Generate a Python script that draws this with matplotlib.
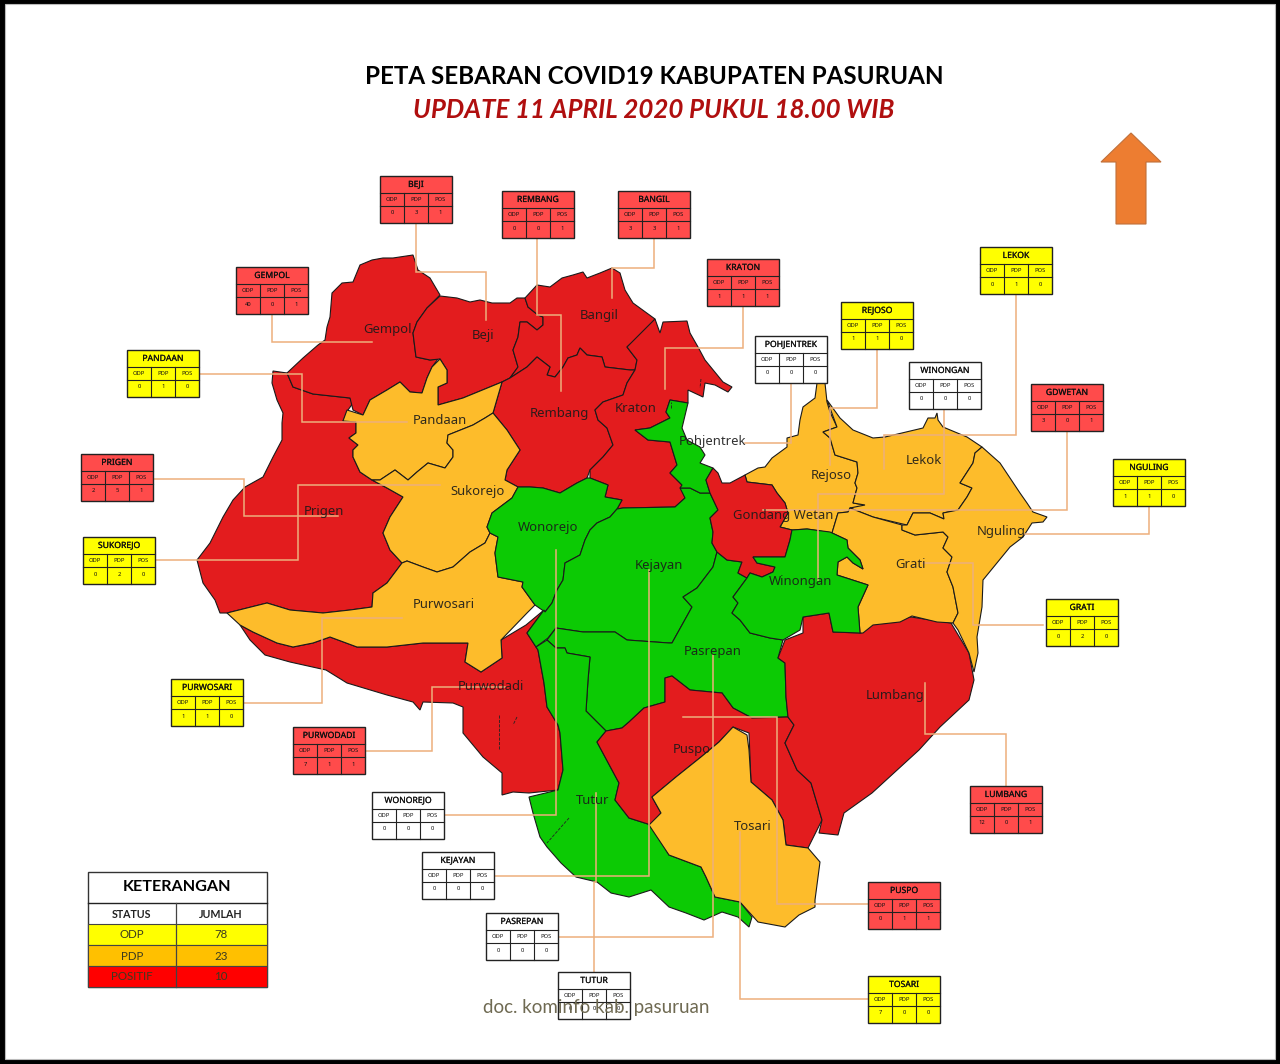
import matplotlib
matplotlib.use("Agg")
import matplotlib.pyplot as plt
import matplotlib.patheffects as pe
from matplotlib.patches import Polygon, Rectangle

RED = "#E31C1E"
ORANGE = "#FDBC2B"
GREEN = "#0CCA04"
LEADER = "#EDAF7C"

# district outlines in pixels
prigen = [(273,371),(287,373),(293,387),(313,394),(350,398),(353,403),(348,410),(343,421),(356,422),(356,433),(349,438),(358,445),(353,450),(353,457),(360,472),(372,480),(387,488),(403,497),(390,517),(383,533),(390,550),(402,563),(387,583),(373,593),(372,607),(350,610),(323,613),(290,610),(267,603),(227,613),(220,613),(215,600),(203,583),(197,560),(210,543),(223,517),(233,500),(245,487),(263,477),(273,457),(282,440),(282,423),(283,413),(277,400),(272,383)]
gempol = [(287,373),(303,358),(318,345),(325,340),(327,327),(330,317),(332,293),(342,283),(353,282),(360,265),(372,260),(383,258),(393,258),(413,255),(418,270),(430,278),(440,295),(427,308),(417,322),(413,333),(416,357),(430,360),(438,359),(432,367),(427,378),(422,393),(410,392),(400,382),(387,390),(370,400),(363,415),(353,410),(350,398),(313,394),(293,387)]
beji = [(440,296),(457,298),(470,302),(480,300),(492,303),(510,303),(517,298),(525,298),(528,307),(538,315),(543,317),(543,325),(537,330),(527,322),(520,322),(518,337),(513,350),(518,367),(510,378),(502,382),(463,398),(438,405),(438,387),(447,383),(447,370),(440,359),(430,360),(416,357),(413,333),(417,322),(427,308)]
bangil = [(525,298),(537,285),(550,287),(562,278),(573,275),(583,272),(587,278),(600,273),(612,268),(620,273),(625,290),(633,303),(655,319),(647,330),(627,347),(637,360),(635,370),(630,370),(605,367),(602,357),(587,355),(580,348),(577,355),(568,358),(563,367),(555,377),(547,375),(550,367),(537,357),(527,367),(510,378),(518,367),(513,350),(518,337),(520,322),(527,322),(537,330),(543,325),(543,317),(538,315),(528,307)]
kraton = [(655,319),(660,333),(663,322),(687,321),(690,333),(698,347),(705,360),(723,382),(732,387),(728,392),(715,385),(705,383),(703,397),(688,390),(688,403),(670,400),(666,412),(670,418),(650,428),(635,430),(648,440),(670,442),(677,465),(670,473),(682,485),(685,498),(675,507),(623,508),(617,509),(622,500),(605,497),(608,485),(590,478),(590,470),(603,457),(613,445),(607,428),(598,420),(595,410),(603,402),(623,395),(627,383),(635,370),(637,360),(627,347)]
rembang = [(510,378),(527,367),(537,357),(550,367),(547,375),(555,377),(563,367),(568,358),(577,355),(580,348),(587,355),(602,357),(605,367),(630,370),(635,370),(627,383),(623,395),(603,402),(595,410),(598,420),(607,428),(613,445),(603,457),(590,470),(587,478),(577,483),(560,493),(543,488),(530,487),(518,487),(505,480),(507,470),(520,450),(507,430),(493,413),(502,382)]
pandaan = [(440,359),(447,370),(447,383),(438,387),(438,405),(463,398),(502,382),(493,413),(485,418),(473,425),(448,435),(447,443),(453,450),(453,457),(445,468),(428,463),(417,472),(408,480),(395,470),(380,480),(372,480),(360,472),(353,457),(353,450),(358,445),(349,438),(356,433),(356,422),(343,421),(347,410),(363,415),(370,400),(387,390),(400,382),(410,392),(422,393),(427,378),(432,367)]
sukorejo = [(372,480),(380,480),(395,470),(408,480),(417,472),(428,463),(445,468),(453,457),(453,450),(447,443),(448,435),(473,425),(485,418),(493,413),(507,430),(520,450),(507,470),(505,480),(518,487),(512,498),(492,513),(487,527),(490,533),(485,543),(470,552),(453,567),(437,572),(423,567),(407,561),(402,563),(390,550),(383,533),(390,517),(403,497),(387,488)]
purwodadi = [(240,625),(253,632),(277,643),(293,647),(313,643),(330,637),(357,647),(387,647),(423,643),(468,643),(465,662),(481,672),(502,658),(501,640),(526,625),(544,610),(527,633),(538,650),(544,683),(547,707),(558,725),(560,733),(563,770),(558,790),(529,793),(513,792),(502,795),(502,773),(483,757),(463,733),(463,707),(453,703),(423,702),(420,710),(413,702),(387,695),(347,683),(326,670),(290,662),(265,655),(250,640)]
purwosari = [(227,613),(267,603),(290,610),(323,613),(350,610),(372,607),(373,593),(387,583),(402,563),(407,561),(423,567),(437,572),(453,567),(470,552),(485,543),(490,533),(498,537),(495,553),(498,577),(523,582),(522,587),(535,605),(527,613),(501,640),(502,658),(481,672),(465,662),(468,643),(423,643),(387,647),(357,647),(330,637),(313,643),(293,647),(277,643),(253,632),(240,625)]
wonorejo = [(518,487),(530,487),(543,488),(560,493),(577,483),(587,478),(590,478),(608,485),(605,497),(622,500),(617,509),(610,517),(597,523),(590,530),(585,540),(580,555),(565,563),(563,580),(557,590),(552,603),(545,612),(535,605),(522,587),(523,582),(498,577),(495,553),(498,537),(490,533),(487,527),(492,513),(512,498)]
kejayan = [(617,509),(623,508),(675,507),(685,498),(680,488),(690,488),(700,493),(710,493),(718,510),(710,518),(713,532),(712,543),(717,552),(713,567),(697,588),(683,597),(692,607),(672,643),(669,643),(627,640),(615,632),(583,632),(556,628),(548,638),(536,647),(527,633),(544,610),(545,612),(552,603),(557,590),(563,580),(565,563),(580,555),(585,540),(590,530),(597,523),(610,517)]
pohjentrek = [(670,400),(688,403),(682,428),(687,440),(700,447),(705,455),(700,463),(713,468),(706,480),(710,493),(700,493),(690,488),(680,488),(682,485),(670,473),(677,465),(670,442),(648,440),(635,430),(650,428),(670,418),(666,412)]
pasrepan = [(547,640),(556,628),(583,632),(615,632),(627,640),(669,643),(672,643),(692,607),(683,597),(697,588),(713,567),(717,552),(727,560),(742,562),(738,573),(747,578),(733,597),(738,603),(732,613),(740,620),(750,633),(770,638),(783,640),(778,658),(785,663),(786,697),(788,717),(752,718),(733,708),(722,693),(690,690),(672,676),(665,678),(665,702),(644,708),(629,722),(622,728),(606,731),(586,711),(588,680),(590,657),(567,653),(565,648),(556,648)]
tutur = [(536,647),(547,640),(556,648),(565,648),(567,653),(590,657),(588,680),(586,711),(606,731),(597,742),(619,783),(615,800),(629,818),(651,825),(669,855),(701,867),(706,877),(715,897),(740,902),(752,917),(749,927),(738,917),(722,912),(704,920),(686,913),(669,907),(651,890),(629,897),(611,893),(597,882),(576,877),(561,863),(547,847),(540,837),(533,813),(529,797),(558,790),(563,770),(560,733),(558,725),(547,707),(544,683),(538,650)]
puspo = [(606,731),(622,728),(629,722),(644,708),(665,702),(665,678),(672,676),(690,690),(722,693),(733,708),(752,718),(788,717),(794,725),(785,743),(797,770),(811,783),(822,820),(808,848),(786,845),(783,820),(772,800),(751,782),(749,733),(733,727),(719,742),(701,757),(676,777),(652,797),(661,813),(651,825),(629,818),(615,800),(619,783),(597,742)]
tosari = [(733,727),(747,735),(749,750),(751,782),(772,800),(783,820),(786,845),(808,848),(820,862),(815,900),(815,907),(799,915),(785,927),(758,922),(740,902),(715,897),(706,877),(701,867),(669,855),(649,825),(661,813),(652,797),(676,777),(701,757),(719,742)]
gondang_wetan = [(713,468),(718,473),(722,483),(730,483),(745,475),(747,482),(772,485),(777,493),(785,503),(788,513),(780,527),(792,530),(790,540),(785,557),(753,557),(757,563),(775,567),(773,572),(762,577),(750,573),(747,578),(738,573),(742,562),(727,560),(717,552),(712,543),(713,532),(710,518),(718,510),(710,493),(706,480)]
winongan = [(792,530),(807,529),(830,532),(847,540),(848,548),(860,560),(863,569),(853,563),(847,557),(838,562),(837,575),(868,585),(858,607),(860,633),(833,632),(829,613),(803,617),(800,630),(783,640),(770,638),(750,633),(740,620),(732,613),(738,603),(733,597),(747,578),(750,573),(762,577),(773,572),(775,567),(757,563),(753,557),(785,557),(790,540)]
lumbang = [(803,617),(829,613),(833,632),(861,633),(872,623),(911,617),(951,623),(969,653),(974,680),(969,700),(940,727),(919,750),(872,793),(844,813),(838,835),(819,833),(822,820),(811,783),(797,770),(785,743),(794,725),(788,717),(786,697),(785,663),(778,658),(785,640),(803,633)]
rejoso = [(817,383),(825,383),(827,402),(830,412),(837,427),(823,432),(830,438),(835,455),(857,462),(858,473),(855,483),(857,488),(853,503),(865,505),(863,508),(850,508),(848,512),(838,513),(832,533),(807,529),(792,530),(780,527),(788,513),(785,503),(777,493),(772,485),(747,482),(745,475),(758,468),(765,467),(772,458),(787,447),(787,438),(798,435),(800,420),(803,407),(815,398)]
lekok = [(827,400),(840,418),(853,430),(873,438),(885,437),(923,428),(928,418),(935,418),(937,413),(938,420),(943,427),(967,437),(982,447),(975,453),(973,463),(960,483),(972,488),(967,497),(958,510),(943,513),(944,519),(930,513),(913,513),(907,525),(873,517),(850,508),(865,505),(853,503),(857,488),(855,483),(858,473),(857,462),(835,455),(830,438),(823,432),(837,427)]
grati = [(832,533),(838,513),(848,512),(850,508),(873,517),(902,525),(902,530),(915,535),(943,532),(948,537),(943,548),(952,557),(947,572),(953,587),(958,613),(953,623),(937,622),(912,616),(900,622),(873,625),(863,633),(860,633),(858,607),(868,585),(837,575),(838,562),(847,557),(853,563),(863,569),(860,560),(848,548),(847,540)]
nguling = [(982,447),(1000,463),(1020,493),(1027,503),(1033,512),(1047,517),(1043,522),(1032,523),(1023,537),(1010,547),(983,580),(982,607),(977,637),(978,653),(974,672),(969,653),(958,630),(953,623),(958,613),(953,587),(947,572),(952,557),(943,548),(948,537),(943,532),(915,535),(902,530),(902,525),(907,525),(913,513),(930,513),(944,519),(943,513),(958,510),(967,497),(972,488),(960,483),(973,463),(975,453)]

map_regions = [prigen, gempol, beji, bangil, rembang, kraton, purwodadi, pandaan, sukorejo, purwosari,
               wonorejo, kejayan, pohjentrek, pasrepan, tutur, puspo, tosari, lumbang,
               rejoso, lekok, grati, nguling, gondang_wetan, winongan]
map_colors = [RED, RED, RED, RED, RED, RED, RED, ORANGE, ORANGE, ORANGE,
              GREEN, GREEN, GREEN, GREEN, GREEN, RED, ORANGE, RED,
              ORANGE, ORANGE, ORANGE, ORANGE, RED, GREEN]

# small broken borders inside districts
inner_lines = [
    [(499,715),(499,750)], [(517,717),(513,725)], [(569,818),(547,843)],
    [(701,379),(700,388)], [(671,408),(671,402)],
]

# district labels on the map
map_labels = ["Gempol","Beji","Bangil","Pandaan","Rembang","Kraton","Pohjentrek","Sukorejo","Prigen",
              "Wonorejo","Kejayan","Rejoso","Lekok","Gondang Wetan","Nguling","Grati","Winongan",
              "Purwosari","Pasrepan","Lumbang","Purwodadi","Puspo","Tutur","Tosari"]
map_label_x = [388,483,599,440,559,636,713,478,324,548,659,831,924,783,1001,910,801,444,713,895,491,692,593,753]
map_label_y = [329,335,316,420,413,409,441,491,512,527,566,475,461,515,532,564,582,604,651,696,687,749,800,827]

# info tables
table_names = ["BEJI","REMBANG","BANGIL","GEMPOL","KRATON","PANDAAN","PRIGEN","SUKOREJO","PURWOSARI","PURWODADI",
               "WONOREJO","KEJAYAN","PASREPAN","TUTUR","TOSARI","PUSPO","LUMBANG","GRATI","NGULING","GDWETAN",
               "LEKOK","REJOSO","POHJENTREK","WINONGAN"]
table_odp = [0,0,3,40,1,0,2,0,1,7,0,0,0,0,7,0,12,0,1,3,0,1,0,0]
table_pdp = [3,0,3,0,1,1,5,2,1,1,0,0,0,0,0,1,0,2,1,0,1,1,0,0]
table_pos = [1,1,1,1,1,0,1,0,0,1,0,0,0,0,0,1,1,0,0,1,0,0,0,0]
table_x = [380,502,618,236,707,127,81,83,171,293,372,422,486,558,868,868,970,1046,1113,1031,980,841,755,909]
table_y = [176,191,191,267,259,350,454,537,679,727,792,852,913,972,976,882,786,599,459,384,247,302,336,362]
table_fill = ["#FF4B4B","#FF4B4B","#FF4B4B","#FF4B4B","#FF4B4B","#FFFF00","#FF4B4B","#FFFF00","#FFFF00","#FF4B4B",
              "white","white","white","white","#FFFF00","#FF4B4B","#FF4B4B","#FFFF00","#FFFF00","#FF4B4B",
              "#FFFF00","#FFFF00","white","white"]

# leader lines from each table to its district label
leaders = [
    [(416,224),(416,272),(486,272),(486,320)],
    [(537,238),(537,315),(561,315),(561,391)],
    [(654,238),(654,268),(612,268),(612,298)],
    [(272,314),(272,342),(372,342)],
    [(743,306),(743,348),(665,348),(665,389)],
    [(199,374),(302,374),(302,422),(407,422)],
    [(153,479),(244,479),(244,516),(338,516)],
    [(155,560),(298,560),(298,485),(440,485)],
    [(243,703),(322,703),(322,618),(402,618)],
    [(365,751),(432,751),(432,687),(505,687)],
    [(444,815),(556,815),(556,550)],
    [(494,876),(649,876),(649,570)],
    [(558,937),(713,937),(713,655)],
    [(594,972),(594,882),(596,882),(596,793)],
    [(868,999),(740,999),(740,832)],
    [(868,904),(777,904),(777,717),(683,717)],
    [(1006,786),(1006,734),(925,734),(925,683)],
    [(1043,625),(973,625),(973,563),(923,563)],
    [(1149,507),(1149,534),(1025,534)],
    [(1067,432),(1067,510),(763,510)],
    [(1016,295),(1016,435),(884,435),(884,469)],
    [(877,350),(877,408),(830,408),(830,465)],
    [(791,384),(791,443),(745,443)],
    [(944,409),(944,494),(818,494),(818,580)],
]

legend_status = ["ODP","PDP","POSITIF"]
legend_jumlah = [78,23,10]
legend_fill = ["#FFFF00","#FFC000","#FF0000"]

arrow_shape = [(1131,133),(1161,162),(1146,162),(1146,224),(1116,224),(1116,162),(1101,162)]


def draw_table(ax, name, x, y, fill, vals):
    w, h = 72, 47
    edge = "#222222"
    ax.add_patch(Rectangle((x, y), w, h, facecolor=fill, edgecolor=edge, linewidth=1, zorder=5))
    ax.plot([x, x + w], [y + 17, y + 17], color=edge, linewidth=0.8, zorder=6)
    ax.plot([x, x + w], [y + 30, y + 30], color=edge, linewidth=0.8, zorder=6)
    for i in (1, 2):
        ax.plot([x + i * 24, x + i * 24], [y + 17, y + h], color=edge, linewidth=0.8, zorder=6)
    title = ax.text(x + w / 2, y + 8.5, name, ha="center", va="center", fontsize=6.2, color="#111111", zorder=7)
    title.set_path_effects([pe.withStroke(linewidth=0.12, foreground="#111111")])
    for i, head in enumerate(["ODP", "PDP", "POS"]):
        ax.text(x + 12 + i * 24, y + 23.5, head, ha="center", va="center", fontsize=4.2,
                fontweight="bold", color="#111111", zorder=7)
        ax.text(x + 12 + i * 24, y + 37, str(vals[i]), ha="center", va="center", fontsize=4.2,
                fontweight="bold", color="#111111", zorder=7)


plt.rcParams["font.family"] = ["Noto Sans", "DejaVu Sans"]

fig = plt.figure(figsize=(12.8, 10.64), dpi=100, facecolor="black")
ax = fig.add_axes([0, 0, 1, 1])
ax.set_xlim(0, 1280)
ax.set_ylim(1064, 0)
ax.axis("off")

# white sheet inside the black frame
ax.add_patch(Rectangle((5, 4), 1270, 1055, facecolor="white", edgecolor="#BBBBBB", linewidth=0.8, zorder=0))

ax.text(654, 76, "PETA SEBARAN COVID19 KABUPATEN PASURUAN", ha="center", va="center",
        fontsize=17.4, fontweight="bold", family="Lato", color="black")
ax.text(654, 110, "UPDATE 11 APRIL 2020 PUKUL 18.00 WIB", ha="center", va="center",
        fontsize=18.6, fontweight="bold", style="italic", family="Lato", color="#B00F0F")

ax.add_patch(Polygon(arrow_shape, closed=True, facecolor="#ED7D31", edgecolor="#C0703A", linewidth=0.8))

for region, color in zip(map_regions, map_colors):
    ax.add_patch(Polygon(region, closed=True, facecolor=color, edgecolor="#1A1A1A", linewidth=0.8, zorder=2))
for line in inner_lines:
    ax.plot(*zip(*line), color="#222222", linewidth=0.6, linestyle="--", zorder=3)

for leader in leaders:
    ax.plot(*zip(*leader), color=LEADER, linewidth=1.1, solid_joinstyle="miter", zorder=4)

for label, lx, ly in zip(map_labels, map_label_x, map_label_y):
    ax.text(lx, ly, label, ha="center", va="center", fontsize=9.4, color="#1A1A1A", alpha=0.9, zorder=8)

for i, name in enumerate(table_names):
    draw_table(ax, name, table_x[i], table_y[i], table_fill[i], (table_odp[i], table_pdp[i], table_pos[i]))

# legend table
ax.add_patch(Rectangle((88, 872), 179, 115, facecolor="white", edgecolor="#333333", linewidth=1, zorder=5))
ax.plot([88, 267], [903, 903], color="#222222", linewidth=1, zorder=6)
ax.plot([176, 176], [903, 987], color="#444444", linewidth=0.9, zorder=7)
ax.text(177, 887, "KETERANGAN", ha="center", va="center", fontsize=11.6, fontweight="bold",
        family="Lato", color="black", zorder=7)
ax.text(132, 914, "STATUS", ha="center", va="center", fontsize=7.7, family="Lato", fontweight="bold", color="#222222", zorder=7)
ax.text(221, 914, "JUMLAH", ha="center", va="center", fontsize=7.7, family="Lato", fontweight="bold", color="#222222", zorder=7)
for i, status in enumerate(legend_status):
    top = 924 + i * 21
    ax.add_patch(Rectangle((88, top), 179, 21, facecolor=legend_fill[i], edgecolor="#444444", linewidth=0.8, zorder=6))
    ax.text(132, top + 11, status, ha="center", va="center", fontsize=8.3, family="Lato", color="#3A3A20", zorder=8)
    ax.text(221, top + 11, str(legend_jumlah[i]), ha="center", va="center", fontsize=8.3, family="Lato", color="#3A3A20", zorder=8)

ax.text(596, 1008, "doc. kominfo kab. pasuruan", ha="center", va="center", fontsize=13.5,
        family="Lato", color="#6F6A52", zorder=9)

fig.savefig("out.png", dpi=100, facecolor="black")
